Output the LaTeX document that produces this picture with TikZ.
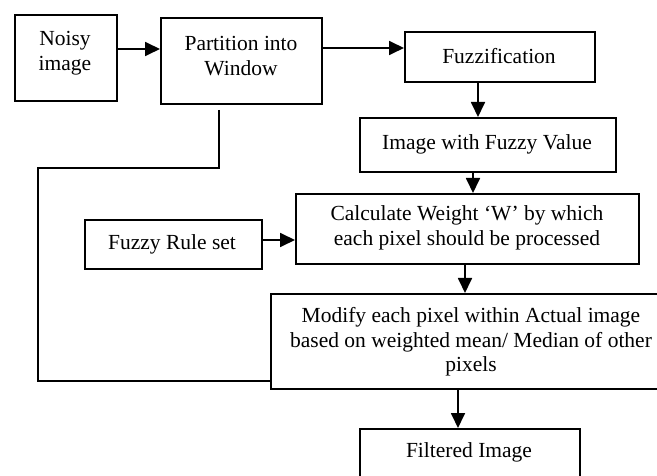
\documentclass[tikz,border=0pt]{standalone}
\usepackage{fontspec}
\setmainfont{Liberation Serif}
\usetikzlibrary{arrows.meta}
\begin{document}
\begin{tikzpicture}[x=1pt,y=-1pt,
  box/.style={draw, line width=1.8pt, inner sep=0pt, anchor=north west},
  lbl/.style={font=\fontsize{21.5}{24.5}\selectfont, align=center, inner sep=0pt},
  flow/.style={line width=1.8pt, -{Triangle[length=15pt,width=14pt]}},
  wire/.style={line width=1.8pt}]
\useasboundingbox (0,0) rectangle (657,476);

% boxes
\node[box, minimum width=102pt, minimum height=86pt] (noisy) at (14,14) {};
\node[box, minimum width=161pt, minimum height=86pt] (part)  at (160,17) {};
\node[box, minimum width=190pt, minimum height=50pt] (fuzz)  at (404,31) {};
\node[box, minimum width=256pt, minimum height=54pt] (imgf)  at (359,117) {};
\node[box, minimum width=343pt, minimum height=70pt] (calc)  at (295,193) {};
\node[box, minimum width=177pt, minimum height=49pt] (rule)  at (84,219) {};
\node[box, minimum width=420pt, minimum height=95pt] (modif) at (270,293) {};
\node[box, minimum width=220pt, minimum height=60pt] (filt)  at (359,428) {};

% labels
\node[lbl] (noisyt) at (65,53) {Noisy\\image};
\node[lbl] (partt)  at (241,56) {Partition into\\Window};
\node[lbl] (fuzzt)  at (499,56) {Fuzzification};
\node[lbl] (imgft)  at (487,144) {Image with Fuzzy Value};
\node[lbl] (calct)  at (467,228) {Calculate Weight ‘W’ by which\\each pixel should be processed};
\node[lbl] (rulet)  at (172,244) {Fuzzy Rule set};
\node[lbl] (modift) at (471,342) {Modify each pixel within Actual image\\based on weighted mean/ Median of other\\pixels};
\node[lbl] (filtt)  at (469,452) {Filtered Image};

% main flow
\draw[flow] (noisy.east |- 0,49) -- (part.west |- 0,49);
\draw[flow] (part.east |- 0,48) -- (fuzz.west |- 0,48);
\draw[flow] (fuzz.south -| 478,0) -- (imgf.north -| 478,0);
\draw[flow] (imgf.south -| 473,0) -- (calc.north -| 473,0);
\draw[flow] (rule.east |- 0,240) -- (calc.west |- 0,240);
\draw[flow] (calc.south -| 465,0) -- (modif.north -| 465,0);
\draw[flow] (modif.south -| 458,0) -- (filt.north -| 458,0);

% feedback line from the window partition to the modification step
\coordinate (fb1) at (219,110);
\coordinate (fb2) at (219,168);
\coordinate (fb3) at (38,168);
\coordinate (fb4) at (38,381);
\draw[wire] (fb1) -- (fb2) -- (fb3) -- (fb4) -- (modif.west |- fb4);
\end{tikzpicture}
\end{document}
